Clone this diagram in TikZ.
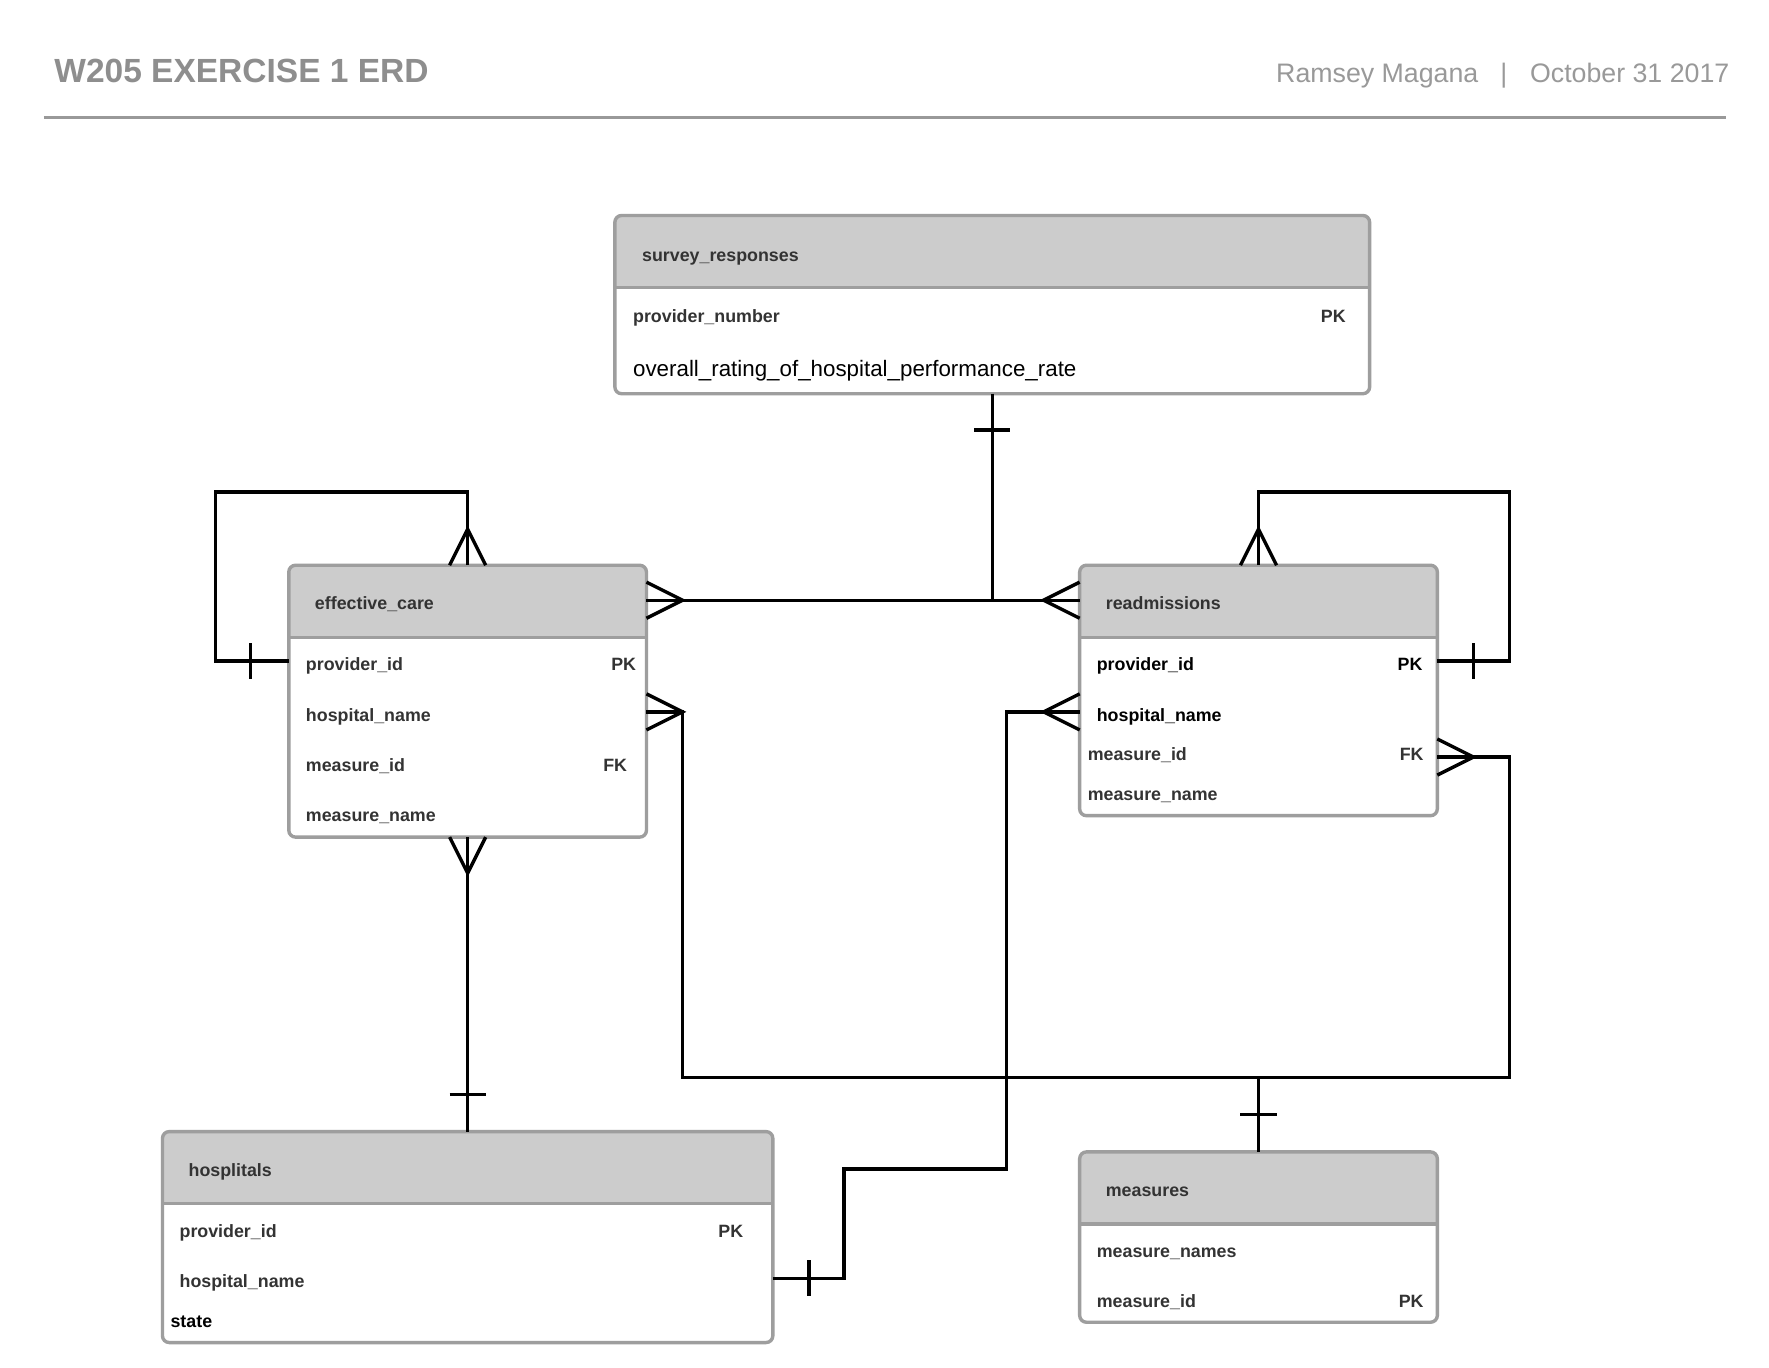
\documentclass[tikz,border=0pt]{standalone}
\usepackage{fontspec}
\setmainfont{Liberation Sans}
\usetikzlibrary{calc}
\definecolor{hdrgray}{HTML}{CCCCCC}
\definecolor{bordergray}{HTML}{9E9E9E}
\definecolor{titlegray}{HTML}{8E8E8E}
\definecolor{rulegray}{HTML}{999999}
\definecolor{fieldtext}{HTML}{333333}
\begin{document}
\begin{tikzpicture}[x=1pt,y=-1pt,
  tbl/.style={draw=bordergray, line width=3pt, rounded corners=6pt, rectangle, inner sep=0pt, outer sep=0pt},
  fld/.style={anchor=base west, inner sep=0pt, font=\fontsize{15.8}{18}\selectfont\bfseries, text=fieldtext},
  fldk/.style={fld, text=black},
  keyfld/.style={anchor=base east, inner sep=0pt, font=\fontsize{15.8}{18}\selectfont\bfseries, text=fieldtext},
  keyk/.style={keyfld, text=black},
  bigfld/.style={anchor=base west, inner sep=0pt, font=\fontsize{19.8}{24}\selectfont, text=black},
  rel/.style={line width=3pt, draw=black},
  sepline/.style={draw=bordergray, line width=3pt},
  hdrtitle/.style={inner sep=0pt, font=\fontsize{29.7}{34}\selectfont\bfseries, text=titlegray},
  hdrright/.style={inner sep=0pt, font=\fontsize{23.7}{28}\selectfont, text=rulegray}
]
\useasboundingbox (0,0) rectangle (1568,1211.7);
\fill[white] (0,0) rectangle (1568,1211.7);

% ---------- page header ----------
\node[hdrtitle, anchor=base west] (title) at (48,73.5) {W205 EXERCISE 1 ERD};
\node[hdrright, anchor=base west] (author) at (1131,73) {Ramsey Magana};
\node[hdrright, anchor=base] (sep) at (1333,73) {|};
\node[hdrright, anchor=base east] (date) at (1533,73) {October 31 2017};
\draw[draw=rulegray, line width=2.5pt] (39,104) -- (1530,104);

% ---------- header fills ----------
\begin{scope}
  \clip (545,191) rectangle (1214,255);
  \fill[hdrgray, rounded corners=6pt] (545,191) rectangle (1214,349);
\end{scope}
\begin{scope}
  \clip (256,501) rectangle (573,565);
  \fill[hdrgray, rounded corners=6pt] (256,501) rectangle (573,742);
\end{scope}
\begin{scope}
  \clip (957,501) rectangle (1274,565);
  \fill[hdrgray, rounded corners=6pt] (957,501) rectangle (1274,723);
\end{scope}
\begin{scope}
  \clip (144,1003) rectangle (685,1067);
  \fill[hdrgray, rounded corners=6pt] (144,1003) rectangle (685,1190);
\end{scope}
\begin{scope}
  \clip (957,1021) rectangle (1274,1085);
  \fill[hdrgray, rounded corners=6pt] (957,1021) rectangle (1274,1172);
\end{scope}

% ---------- tables ----------
\node[tbl, minimum width=669pt, minimum height=158pt] (sr) at (879.5,270) {};
\node[tbl, minimum width=317pt, minimum height=241pt] (ec) at (414.5,621.5) {};
\node[tbl, minimum width=317pt, minimum height=222pt] (ra) at (1115.5,612) {};
\node[tbl, minimum width=541pt, minimum height=187pt] (ho) at (414.5,1096.5) {};
\node[tbl, minimum width=317pt, minimum height=151pt] (me) at (1115.5,1096.5) {};

\draw[sepline] (545,255) -- (1214,255);
\draw[sepline] (256,565) -- (573,565);
\draw[sepline] (957,565) -- (1274,565);
\draw[sepline] (144,1067) -- (685,1067);
\draw[sepline] (957,1085) -- (1274,1085);

% ---------- texts ----------
\node[fld] (srh) at (569,231.5) {survey\_responses};
\node[fld] (srpn) at (561,285.5) {provider\_number};
\node[keyfld] (srpk) at (1193,285.5) {PK};
\node[bigfld] (srov) at (561,334) {overall\_rating\_of\_hospital\_performance\_rate};

\node[fld] (ech) at (279,540.5) {effective\_care};
\node[fld] (ecpi) at (271,594.5) {provider\_id};
\node[keyfld] (ecpk) at (564,594.5) {PK};
\node[fld] (echn) at (271,639.5) {hospital\_name};
\node[fld] (ecmi) at (271,683.5) {measure\_id};
\node[keyfld] (ecfk) at (556,683.5) {FK};
\node[fld] (ecmn) at (271,728.5) {measure\_name};

\node[fld] (rah) at (980,540.5) {readmissions};
\node[fldk] (rapi) at (972,594.5) {provider\_id};
\node[keyk] (rapk) at (1261,594.5) {PK};
\node[fldk] (rahn) at (972,639.5) {hospital\_name};
\node[fld] (rami) at (964,674.5) {measure\_id};
\node[keyfld] (rafk) at (1262,674.5) {FK};
\node[fld] (ramn) at (964,709.5) {measure\_name};

\node[fld] (hoh) at (167,1042.5) {hosplitals};
\node[fld] (hopi) at (159,1096.5) {provider\_id};
\node[keyfld] (hopk) at (659,1096.5) {PK};
\node[fld] (hohn) at (159,1141.5) {hospital\_name};
\node[fldk] (host) at (151,1176.5) {state};

\node[fld] (meh) at (980,1060.5) {measures};
\node[fld] (mens) at (972,1114.5) {measure\_names};
\node[fld] (memi) at (972,1158.5) {measure\_id};
\node[keyfld] (mepk) at (1262,1158.5) {PK};

% ---------- connection points ----------
\coordinate (ecR) at ($(ec.north east)+(0,31)$);
\coordinate (raL) at ($(ra.north west)+(0,31)$);
\coordinate (J) at (sr.south |- ecR);
\coordinate (ecPK) at ($(ec.north west)+(0,85)$);
\coordinate (raPK) at ($(ra.north east)+(0,85)$);
\coordinate (ecHN) at ($(ec.north east)+(0,130)$);
\coordinate (raMI) at ($(ra.north east)+(0,170)$);
\coordinate (hoHN) at ($(ho.north east)+(0,130)$);
\coordinate (raHN) at ($(ra.north west)+(0,130)$);

% survey_responses -- effective_care / readmissions
\draw[rel] (ecR) -- (raL);
\draw[rel] (sr.south) -- (J);
\draw[rel] ($(sr.south)+(-16,32)$) -- ($(sr.south)+(16,32)$);
\draw[rel] ($(ecR)+(0,-16)$) -- ($(ecR)+(32,0)$) -- ($(ecR)+(0,16)$);
\draw[rel] ($(raL)+(0,-16)$) -- ($(raL)+(-32,0)$) -- ($(raL)+(0,16)$);

% effective_care self loop
\draw[rel] (ec.north) -- ++(0,-65) -| ($(ecPK)+(-65,0)$) -- (ecPK);
\draw[rel] ($(ec.north)+(-16,0)$) -- ($(ec.north)+(0,-32)$) -- ($(ec.north)+(16,0)$);
\draw[rel] ($(ecPK)+(-34,-16)$) -- ($(ecPK)+(-34,16)$);

% readmissions self loop
\draw[rel] (ra.north) -- ++(0,-65) -| ($(raPK)+(64,0)$) -- (raPK);
\draw[rel] ($(ra.north)+(-16,0)$) -- ($(ra.north)+(0,-32)$) -- ($(ra.north)+(16,0)$);
\draw[rel] ($(raPK)+(32,-16)$) -- ($(raPK)+(32,16)$);

% effective_care -- hosplitals
\draw[rel] (ec.south) -- (ho.north);
\draw[rel] ($(ec.south)+(-16,0)$) -- ($(ec.south)+(0,32)$) -- ($(ec.south)+(16,0)$);
\draw[rel] ($(ho.north)+(-16,-33)$) -- ($(ho.north)+(16,-33)$);

% effective_care / readmissions -- measures
\draw[rel] (ecHN) -- ++(32,0) |- ($(raMI)+(64,284)$) |- (raMI);
\draw[rel] (me.north) -- ++(0,-66);
\draw[rel] ($(me.north)+(-16,-33)$) -- ($(me.north)+(16,-33)$);
\draw[rel] ($(ecHN)+(0,-16)$) -- ($(ecHN)+(32,0)$) -- ($(ecHN)+(0,16)$);
\draw[rel] ($(raMI)+(0,-16)$) -- ($(raMI)+(32,0)$) -- ($(raMI)+(0,16)$);

% hosplitals -- readmissions
\draw[rel] (hoHN) -- ++(63,0) -- ++(0,-97) -| ($(raHN)+(-65,0)$) -- (raHN);
\draw[rel] ($(hoHN)+(32,-16)$) -- ($(hoHN)+(32,16)$);
\draw[rel] ($(raHN)+(0,-16)$) -- ($(raHN)+(-32,0)$) -- ($(raHN)+(0,16)$);
\end{tikzpicture}
\end{document}
